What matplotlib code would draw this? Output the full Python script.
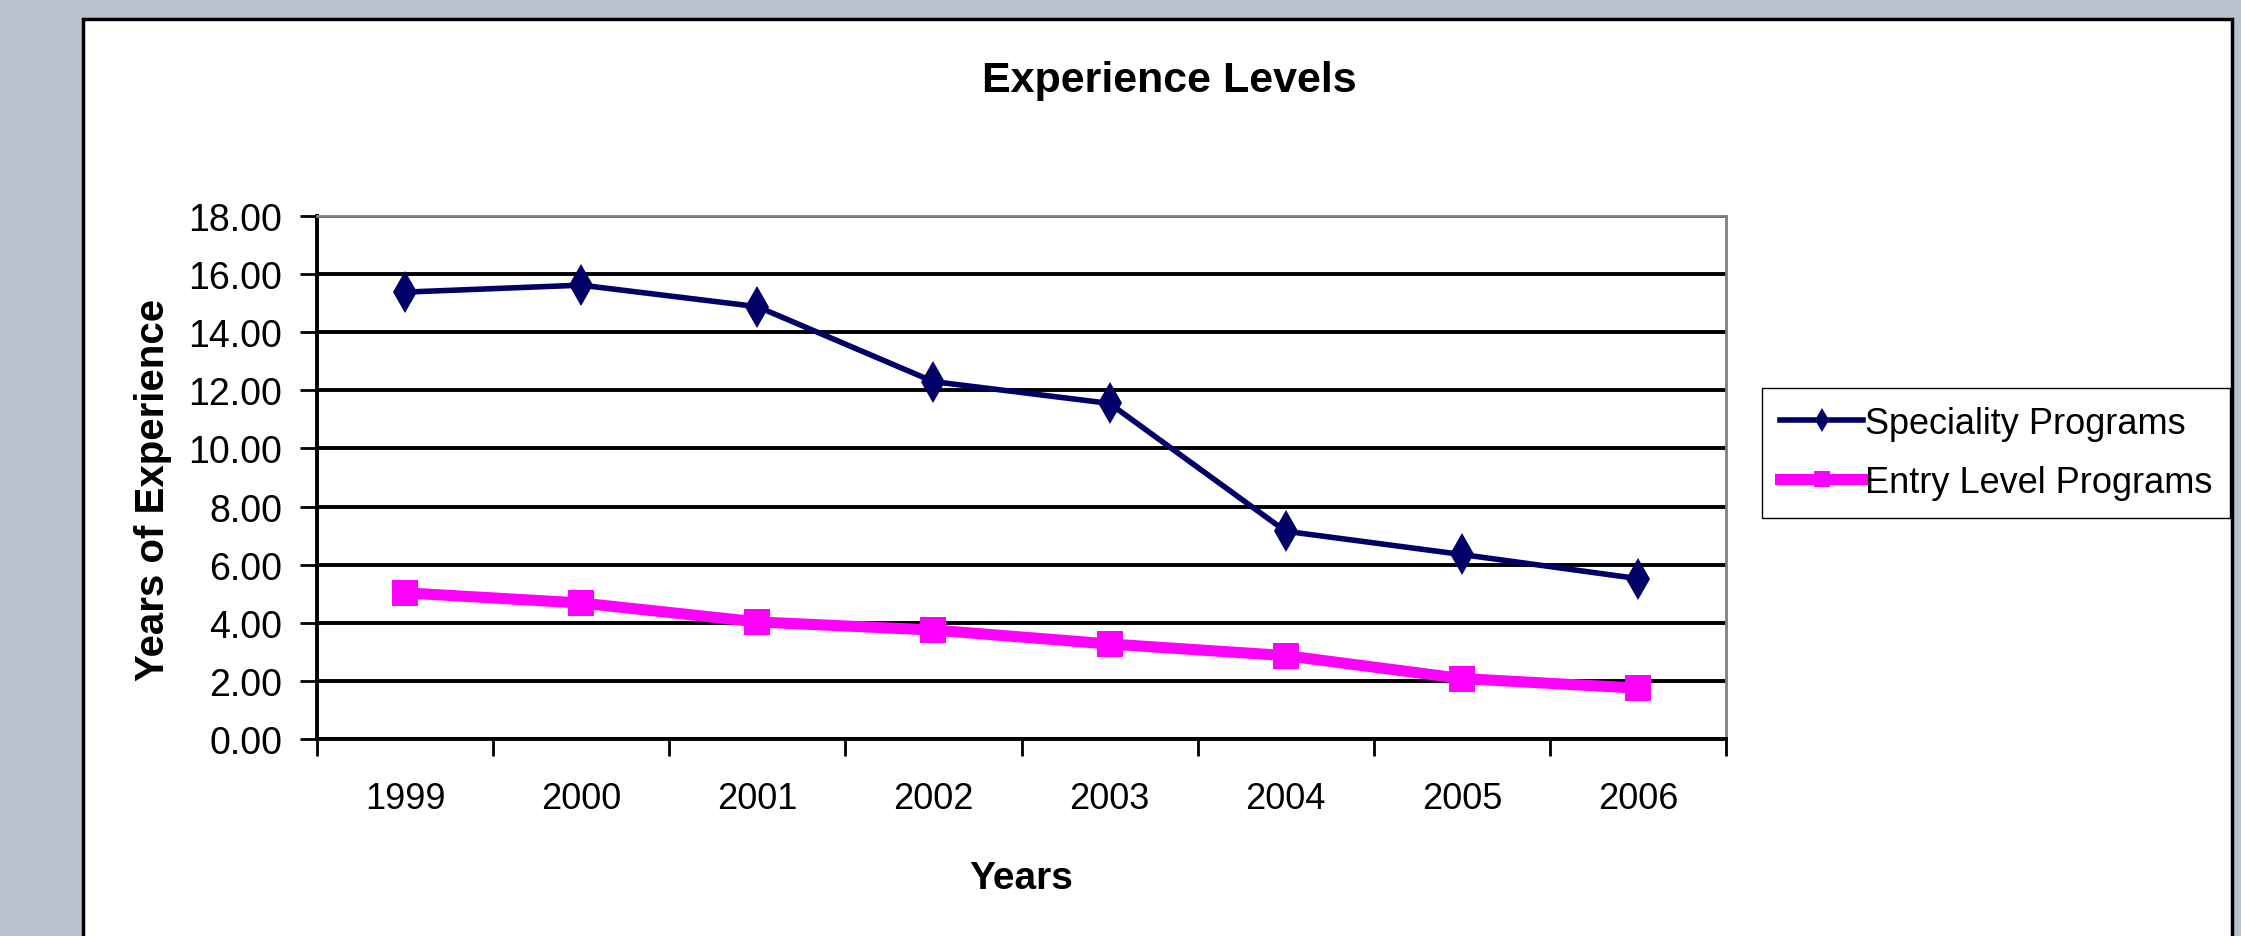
import numpy as np
import matplotlib
matplotlib.use("Agg")
import matplotlib.pyplot as plt
from matplotlib.patches import Rectangle

plt.rcParams["font.family"] = ["Liberation Sans", "DejaVu Sans"]

# Data
years = ["1999", "2000", "2001", "2002", "2003", "2004", "2005", "2006"]
speciality = [15.38, 15.62, 14.88, 12.30, 11.55, 7.15, 6.35, 5.52]
entry_level = [5.03, 4.68, 4.03, 3.75, 3.27, 2.87, 2.08, 1.75]
y_ticks = [0, 2, 4, 6, 8, 10, 12, 14, 16, 18]

W, H = 2241, 937
fig = plt.figure(figsize=(W / 100, H / 100), dpi=100)
fig.patch.set_facecolor("#b9c1d1")

# white chart panel with black border
panel = Rectangle((83 / W, -0.01), (2232 - 83) / W, 1 - 20 / H + 0.01,
                  transform=fig.transFigure, facecolor="white",
                  edgecolor="black", linewidth=2.5, zorder=0)
fig.add_artist(panel)

ax = fig.add_axes([317 / W, 1 - 740 / H, (1726 - 317) / W, (740 - 217) / H])
ax.patch.set_alpha(0)

x = np.arange(len(years))
ax.plot(x, speciality, color="#000066", linewidth=4, marker="d",
        markersize=21, markeredgewidth=0, label="Speciality Programs", zorder=3)
ax.plot(x, entry_level, color="#ff00ff", linewidth=8, marker="s",
        markersize=19, markeredgewidth=0, label="Entry Level Programs", zorder=3)

ax.set_xlim(-0.5, len(years) - 0.5)
ax.set_ylim(0, 18)
ax.set_yticks(y_ticks)
ax.set_yticklabels([f"{v:.2f}" for v in y_ticks])
ax.yaxis.grid(True, color="black", linewidth=2.8)
ax.set_axisbelow(True)

ax.set_xticks(x)
ax.set_xticklabels(years)
ax.set_xticks(np.arange(-0.5, len(years)), minor=True)
ax.tick_params(axis="x", which="major", length=0, pad=30, labelsize=26)
ax.tick_params(axis="x", which="minor", length=12, width=2, direction="out")
ax.tick_params(axis="y", length=12, width=2, direction="out", pad=13, labelsize=27)

for side in ["left", "bottom"]:
    ax.spines[side].set_color("black")
    ax.spines[side].set_linewidth(2.8)
for side in ["top", "right"]:
    ax.spines[side].set_color("#808080")
    ax.spines[side].set_linewidth(2)

ax.set_xlabel("Years", fontsize=28, fontweight="bold", labelpad=32)
fig.text(153 / W, 1 - 490 / H, "Years of Experience",
         rotation=90, fontsize=29, fontweight="bold", ha="center", va="center")
fig.text(1169 / W, 1 - 81 / H, "Experience Levels", fontsize=31,
         fontweight="bold", ha="center", va="center")

fig.legend(loc="upper left", bbox_to_anchor=(1762 / W, 1 - 389 / H),
           fontsize=26, frameon=True, fancybox=False, edgecolor="black",
           framealpha=1, borderaxespad=0, handlelength=2.3,
           handletextpad=0.05, borderpad=0.5, labelspacing=0.65,
           markerscale=0.6)

fig.savefig("out.png", dpi=100, facecolor=fig.get_facecolor())
